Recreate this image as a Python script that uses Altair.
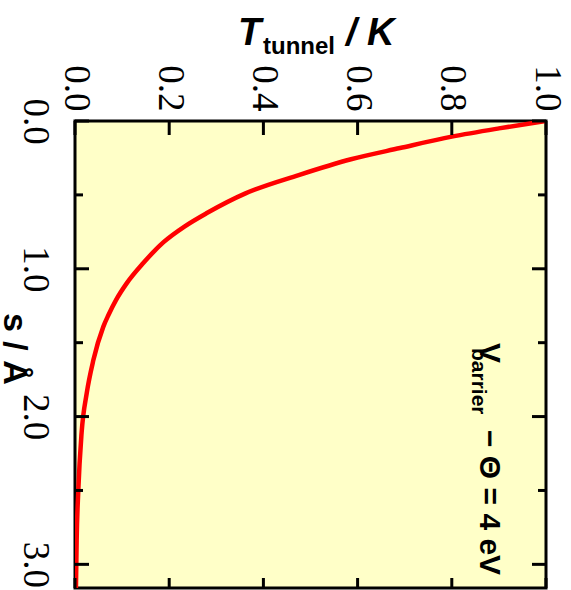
import altair as alt
import pandas as pd

# Curve: barrier width s (Å) vs transmission T_tunnel
s_vals = [0.0, 0.05, 0.106, 0.183, 0.259, 0.366, 0.49, 0.623, 0.711, 0.82, 0.961,
          1.097, 1.212, 1.313, 1.393, 1.618, 1.84, 2.11, 2.5, 2.84, 3.16]
t_vals = [1.0, 0.900, 0.800, 0.690, 0.586, 0.475, 0.362, 0.280, 0.234, 0.188, 0.145,
          0.110, 0.087, 0.071, 0.060, 0.039, 0.025, 0.014, 0.007, 0.0035, 0.002]

t_ticks = [0.0, 0.2, 0.4, 0.6, 0.8, 1.0]
s_major = [0.0, 1.0, 2.0, 3.0]
s_minor = [0.5, 1.5, 2.5]

title_t = ["T"]
title_sub = ["tunnel"]
title_unit = ["/ K"]
title_s = ["s / Å"]
ann_v = ["V"]
ann_sub = ["barrier"]
ann_rest = ["− Θ = 4 eV"]

W, H = 471, 467
S_MAX = 3.16

curve = pd.DataFrame({"s": s_vals, "T": t_vals})
xs = alt.Scale(domain=[0, 1], nice=False, zero=False)
ys = alt.Scale(domain=[0, S_MAX], nice=False, zero=False, reverse=True)

ax_x = alt.Axis(
    orient="top", values=t_ticks, format=".1f", title=None, ticks=False, domain=False, grid=False,
    labelAngle=90, labelAlign="right", labelBaseline="middle", labelPadding=10,
    labelFont="Liberation Serif", labelFontSize=37, labelColor="black",
    labelFlush=False, labelOverlap=False, labelBound=False)
ax_y = alt.Axis(
    orient="left", values=s_major, format=".1f", title=None, ticks=False, domain=False, grid=False,
    labelAngle=90, labelAlign="center", labelBaseline="top", labelPadding=23,
    labelFont="Liberation Serif", labelFontSize=37, labelColor="black",
    labelFlush=False, labelOverlap=False, labelBound=False)

line = alt.Chart(curve).mark_line(color="#FF0000", strokeWidth=4.5, interpolate="monotone", clip=True).encode(
    x=alt.X("T:Q", scale=xs, axis=ax_x),
    y=alt.Y("s:Q", scale=ys, axis=ax_y),
    order="s:Q",
)

tdf = pd.DataFrame({"T": t_ticks})
smaj = pd.DataFrame({"s": s_major})
smin = pd.DataFrame({"s": s_minor})

def xr(df, y0, y1):
    return alt.Chart(df).mark_rule(color="black", strokeWidth=3).encode(
        x=alt.X("T:Q", scale=xs, axis=ax_x), y=alt.value(y0), y2=alt.value(y1))

def yr(df, x0, x1):
    return alt.Chart(df).mark_rule(color="black", strokeWidth=3).encode(
        y=alt.Y("s:Q", scale=ys, axis=ax_y), x=alt.value(x0), x2=alt.value(x1))

ticks = [
    xr(tdf, 0, 14), xr(tdf, H, H - 10),
    yr(smaj, 0, 14), yr(smin, 0, 8),
    yr(smaj, W, W - 14), yr(smin, W, W - 8),
]

def txt(lst, x, y, size, italic=False, angle=0):
    kw = dict(font="Liberation Sans", fontSize=size, fontWeight="bold", color="black",
              align="left", baseline="alphabetic")
    if italic:
        kw["fontStyle"] = "italic"
    if angle:
        kw["angle"] = angle
    return alt.Chart(pd.DataFrame({"label": lst})).mark_text(**kw).encode(
        text="label:N", x=alt.value(x), y=alt.value(y))

texts = [
    txt(title_t, 163, -76, 38, italic=True),
    txt(title_sub, 188, -67, 24),
    txt(title_unit, 271, -76, 38, italic=True),
    txt(title_s, -71, 192, 34, angle=90),
    txt(ann_v, 405, 222, 30, angle=90),
    txt(ann_sub, 397, 227, 21, angle=90),
    txt(ann_rest, 405, 309, 30, angle=90),
]

chart = alt.layer(line, *ticks, *texts).properties(
    width=W, height=H,
    autosize=alt.AutoSizeParams(type="none"),
    padding={"left": 75, "top": 121, "right": 25, "bottom": 2},
    background="white",
).configure_view(fill="#FFFFC8", stroke="black", strokeWidth=3)

chart.save("out.html", embed_options={"renderer": "svg", "actions": False})
